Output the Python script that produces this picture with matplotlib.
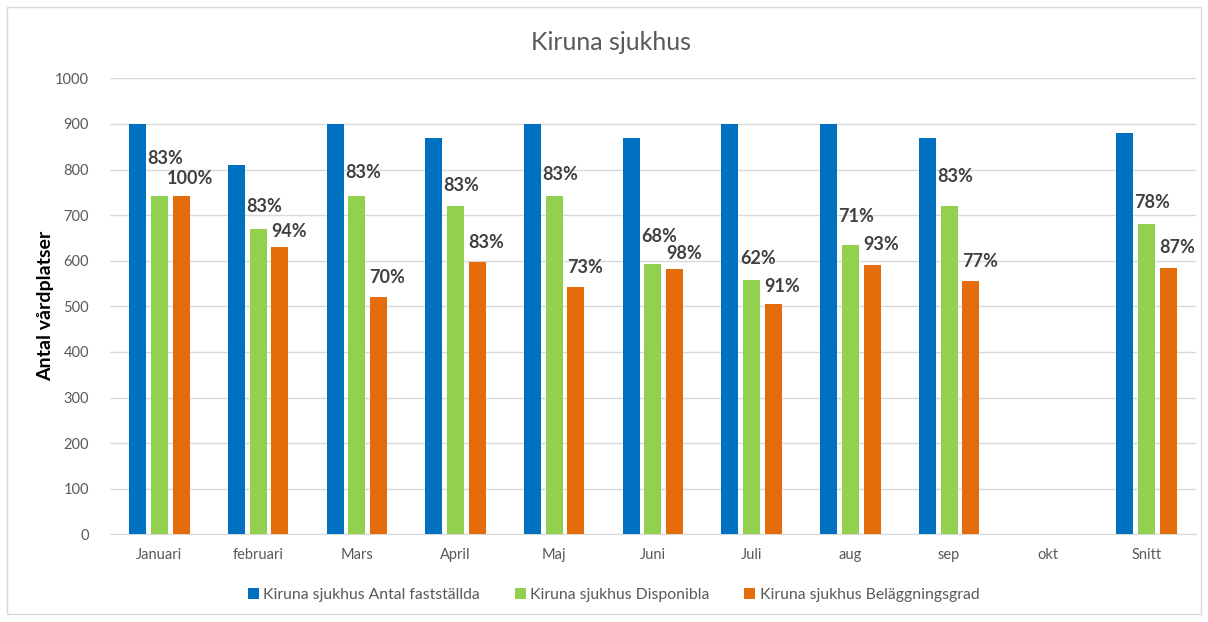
import matplotlib.pyplot as plt
import numpy as np

plt.rcParams['font.family'] = ['Lato', 'DejaVu Sans']

months = ['Januari', 'februari', 'Mars', 'April', 'Maj', 'Juni', 'Juli', 'aug', 'sep', 'okt', 'Snitt']
antal = [900, 810, 900, 870, 900, 870, 900, 900, 870, np.nan, 880]
disponibla = [743, 670, 743, 720, 743, 593, 558, 635, 720, np.nan, 681]
belaggning = [743, 630, 520, 597, 542, 582, 506, 590, 555, np.nan, 584]
disp_labels = ['83%', '83%', '83%', '83%', '83%', '68%', '62%', '71%', '83%', '', '78%']
bel_labels = ['100%', '94%', '70%', '83%', '73%', '98%', '91%', '93%', '77%', '', '87%']

series = ['Kiruna sjukhus Antal fastställda', 'Kiruna sjukhus Disponibla',
          'Kiruna sjukhus Beläggningsgrad']
colors = ['#0070C0', '#92D050', '#E46C0A']

# label heights above bar tops (pixels), as placed in the original
disp_off = [37, 22, 23, 21, 21, 27, 21, 28, 30, 0, 21]
bel_off = [17, 16, 20, 20, 20, 15, 17, 21, 20, 0, 21]

fig = plt.figure(figsize=(12.08, 6.22), dpi=100)
ax = fig.add_axes([0.091, 0.141, 0.899, 0.733])

x = np.arange(len(months))
w = 0.172
step = 0.22
for i, (vals, c, lab) in enumerate(zip([antal, disponibla, belaggning], colors, series)):
    ax.bar(x + (i - 1) * step, vals, width=w, color=c, label=lab, zorder=3)

# data labels (percentages) above green and orange bars
for xi, v, t, off in zip(x, disponibla, disp_labels, disp_off):
    if t:
        ax.annotate(t, (xi, v), xytext=(6, off), textcoords='offset pixels',
                    ha='center', va='center', fontsize=13, fontweight='bold',
                    color='#404040', zorder=4)
for xi, v, t, off in zip(x, belaggning, bel_labels, bel_off):
    if t:
        ax.annotate(t, (xi + step, v), xytext=(9, off), textcoords='offset pixels',
                    ha='center', va='center', fontsize=13, fontweight='bold',
                    color='#404040', zorder=4)

ax.set_xlim(-0.5, len(months) - 0.5)
ax.set_ylim(0, 1000)
ax.set_yticks(range(0, 1001, 100))
ax.set_xticks(x, labels=months)
ax.grid(axis='y', color='#d9d9d9', linewidth=1, zorder=0)
for s in ['top', 'right', 'left']:
    ax.spines[s].set_visible(False)
ax.spines['bottom'].set_color('#d9d9d9')
ax.tick_params(length=0, labelsize=10.5, colors='#595959')
ax.tick_params(axis='y', pad=15)
ax.tick_params(axis='x', pad=10)
ax.set_ylabel('Antal vårdplatser', fontsize=14, fontweight='bold', color='black', labelpad=1)

fig.suptitle('Kiruna sjukhus', x=0.506, y=0.95, fontsize=18, color='#595959')

leg = fig.legend(loc='center', bbox_to_anchor=(0.508, 0.043), ncol=3, frameon=False,
                 fontsize=11.3, handlelength=0.7, handleheight=0.7, handletextpad=0.3,
                 columnspacing=2.2)
for t in leg.get_texts():
    t.set_color('#595959')

# chart area border
fig.patches.append(plt.Rectangle((7 / 1208, 8 / 622), 1194 / 1208, 607 / 622,
                                 transform=fig.transFigure, fill=False,
                                 edgecolor='#d9d9d9', linewidth=1))

fig.savefig('out.png', dpi=100)
